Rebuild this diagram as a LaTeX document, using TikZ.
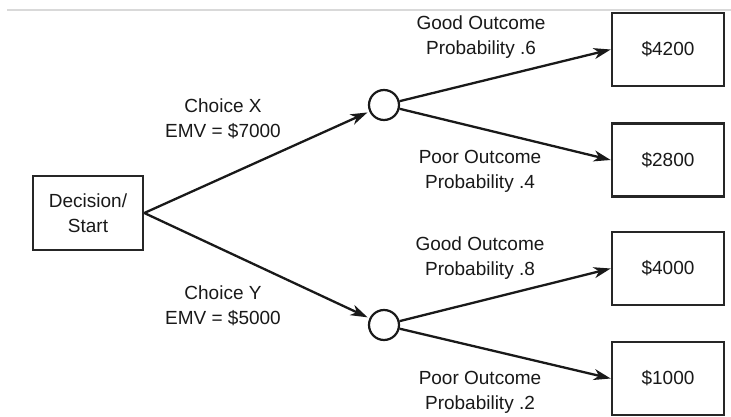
\documentclass[tikz,border=0pt]{standalone}
\usepackage{fontspec}
\setmainfont{Liberation Sans}
\usetikzlibrary{arrows.meta}
\begin{document}
\begin{tikzpicture}[x=1pt,y=-1pt,
  txt/.style={font=\fontsize{19}{25}\selectfont, text=black!90, align=center, inner sep=0pt},
  box/.style={draw=black!85, line width=2.6pt, minimum width=110pt, minimum height=73pt, inner sep=0pt, txt},
  chance/.style={draw=black!90, line width=2.2pt, circle, minimum size=30pt, inner sep=0pt},
  link/.style={draw=black!90, line width=2.3pt, -{Stealth[length=17pt,width=11pt,inset=5pt]}},
  lbl/.style={txt}]
  \useasboundingbox (0,0) rectangle (731,417);
  \fill[white] (0,0) rectangle (731,417);
  % thin rule along the top
  \coordinate (ruleL) at (7,10);
  \coordinate (ruleR) at (731,10);
  \draw[black!15, line width=1.5pt] (ruleL) -- (ruleR);

  % decision node
  \node[box, minimum height=74pt] (start) at (88,213) {Decision/\\Start};
  % chance nodes
  \node[chance] (cx) at (384,105) {};
  \node[chance] (cy) at (384,325) {};
  % payoffs
  \node[box, minimum width=112pt] (p1) at (668,49.5) {\$4200};
  \node[box, minimum width=112pt] (p2) at (668,160) {\$2800};
  \node[box, minimum width=112pt] (p3) at (668,268.5) {\$4000};
  \node[box, minimum width=112pt] (p4) at (668,378.5) {\$1000};

  % branches
  \draw[link, shorten >=2pt] (start.east) -- (cx);
  \draw[link, shorten >=2pt] (start.east) -- (cy);
  \draw[link] (cx) -- (p1.west);
  \draw[link] (cx) -- (p2.west);
  \draw[link] (cy) -- (p3.west);
  \draw[link] (cy) -- (p4.west);

  % branch labels
  \node[lbl] (lx) at (223,119) {Choice X\\EMV = \$7000};
  \node[lbl] (ly) at (223,306) {Choice Y\\EMV = \$5000};
  \node[lbl] (l1) at (481,37) {Good Outcome\\Probability .6};
  \node[lbl] (l2) at (480,171) {Poor Outcome\\Probability .4};
  \node[lbl] (l3) at (480,258) {Good Outcome\\Probability .8};
  \node[lbl] (l4) at (480,392) {Poor Outcome\\Probability .2};
\end{tikzpicture}
\end{document}
